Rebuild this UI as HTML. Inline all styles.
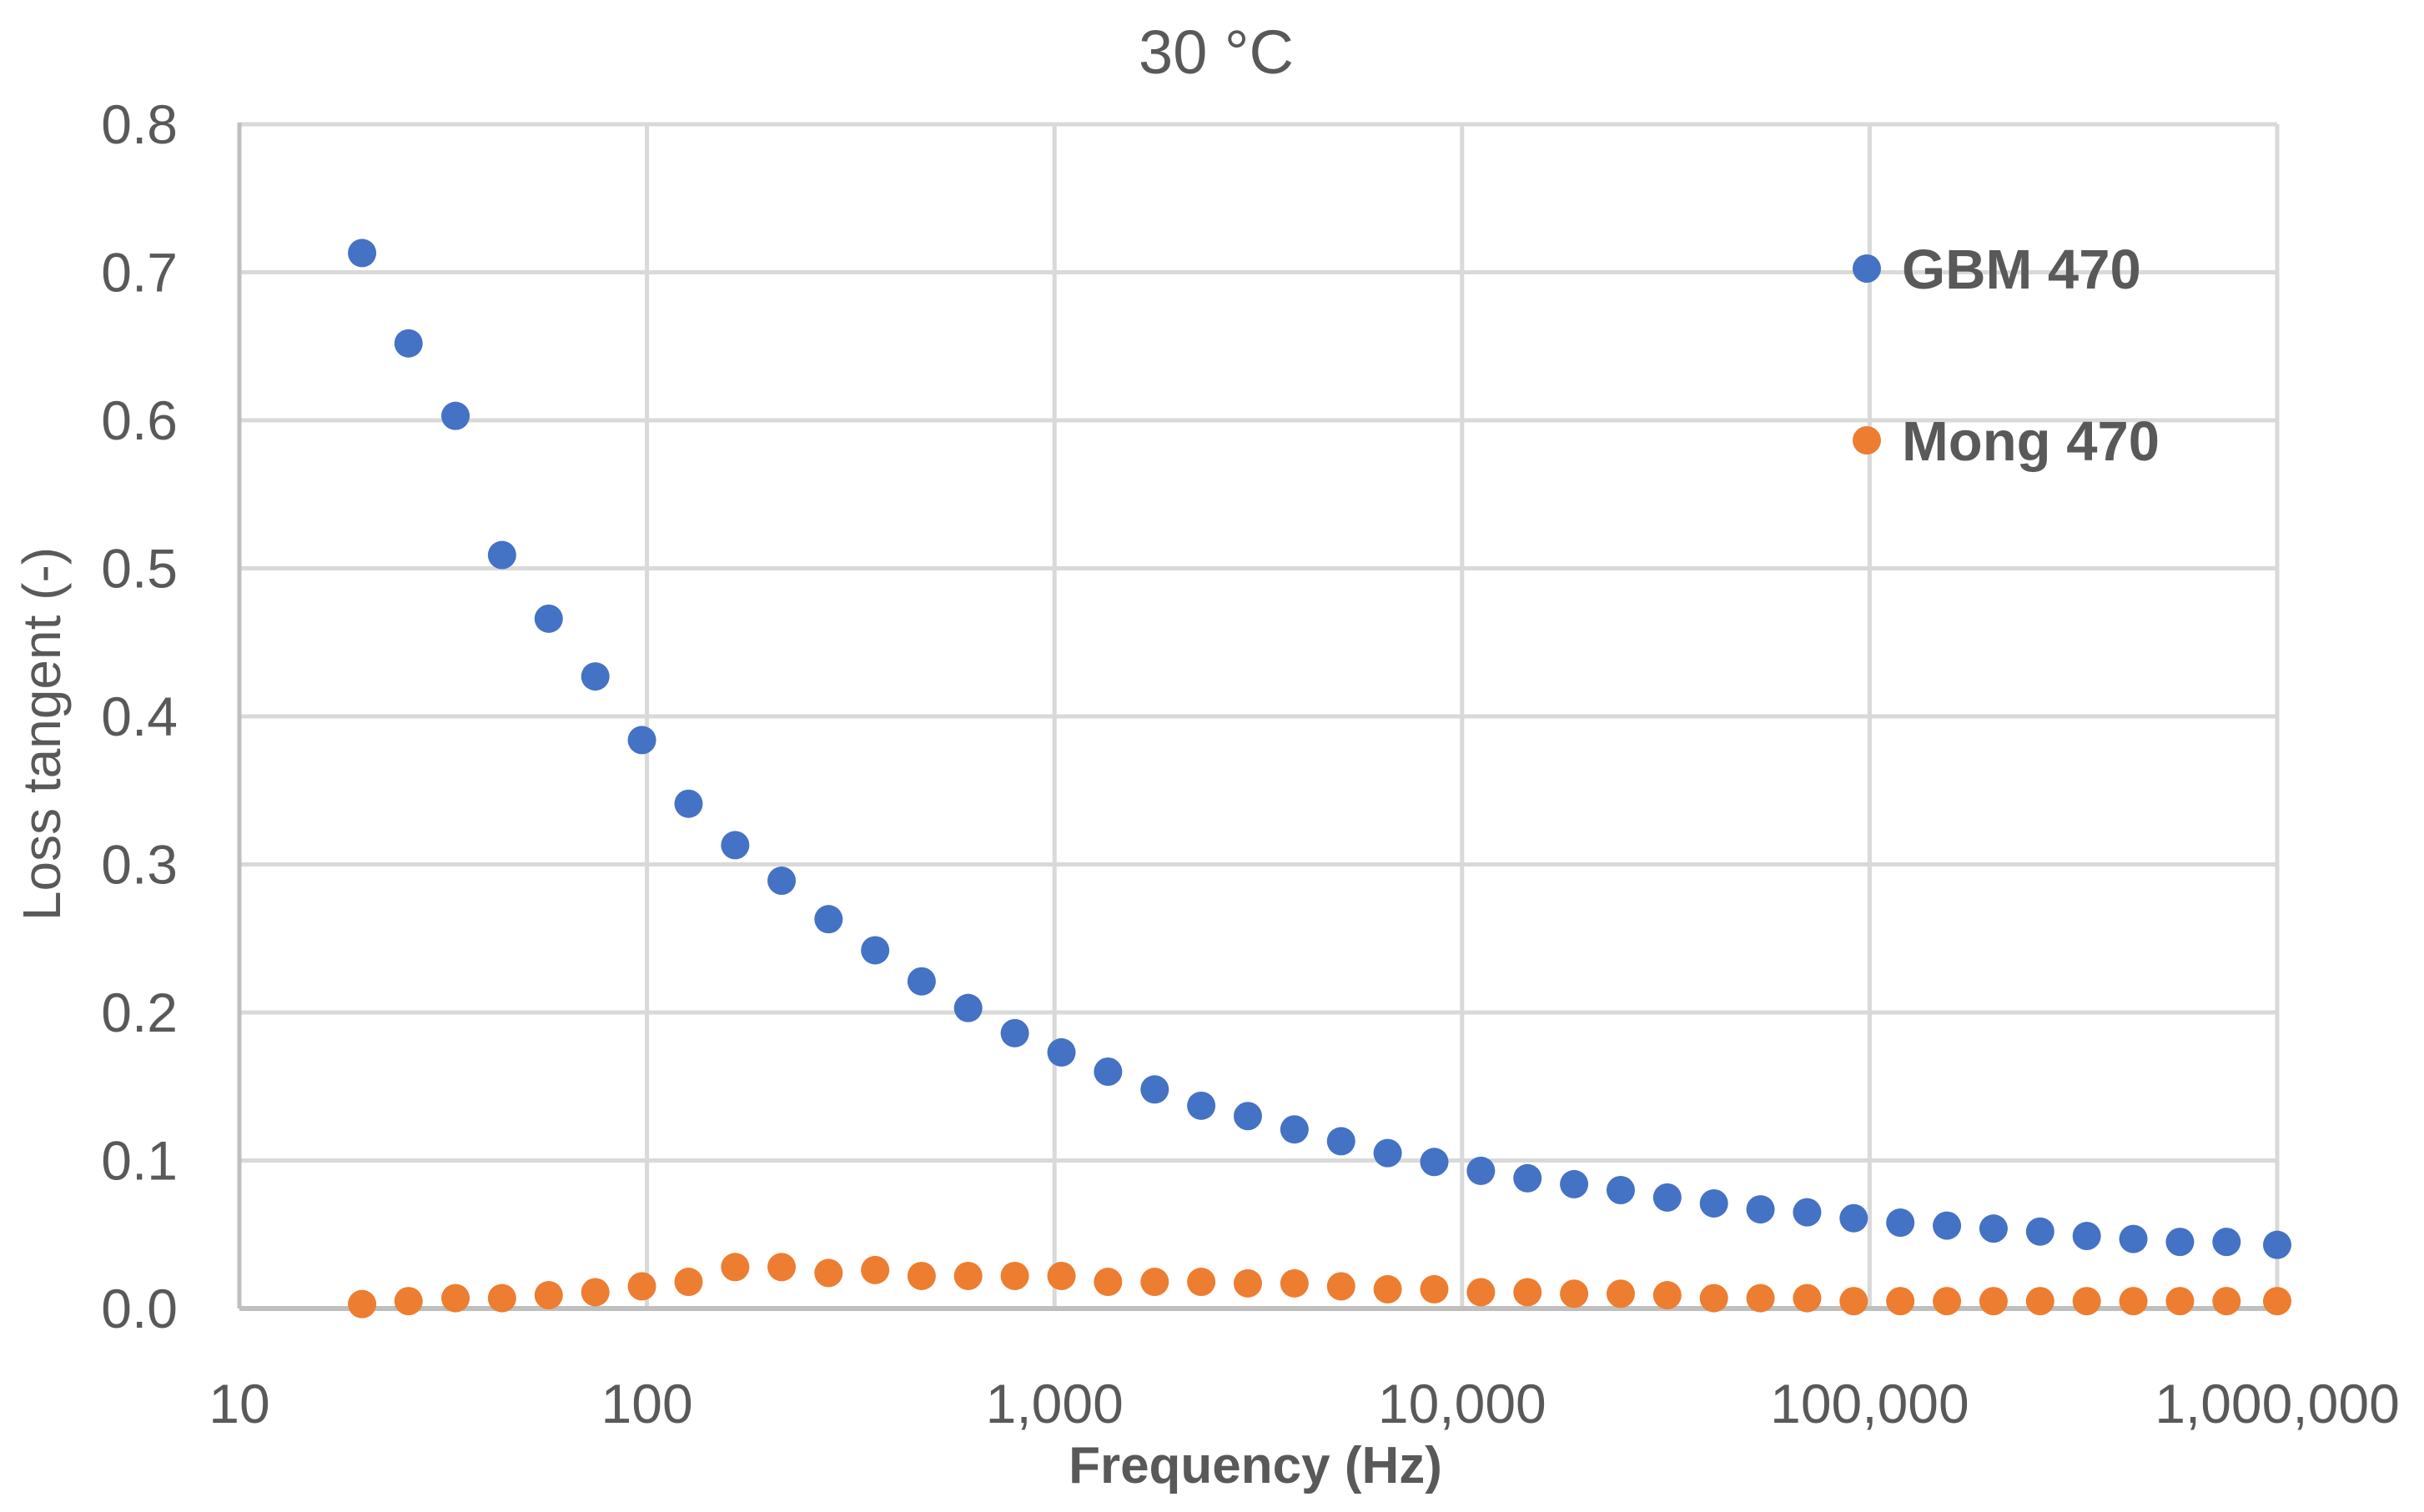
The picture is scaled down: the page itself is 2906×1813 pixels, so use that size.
<!DOCTYPE html>
<html><head><meta charset="utf-8"><style>
html,body{margin:0;padding:0;background:#fff}
svg{display:block}
text{font-family:"Liberation Sans",sans-serif;fill:#595959}
</style></head><body>
<svg id="chart" width="2906" height="1813" viewBox="0 0 2906 1813" xmlns="http://www.w3.org/2000/svg">
<rect width="2906" height="1813" fill="#fff"/>
<text x="1458" y="88" font-size="74" text-anchor="middle">30 °C</text>
<g id="grid"></g>
<g id="axes"></g>
<g id="marks"></g>
<text transform="translate(72,880) rotate(-90)" font-size="64" text-anchor="middle">Loss tangent (-)</text>
<text x="1505" y="1778" font-size="62" font-weight="bold" text-anchor="middle">Frequency (Hz)</text>
<g>
<circle cx="2238" cy="322" r="17" fill="#4472c4"/>
<text x="2280" y="346" font-size="67" font-weight="bold">GBM 470</text>
<circle cx="2238" cy="528" r="17" fill="#ed7d31"/>
<text x="2280" y="552" font-size="67" font-weight="bold">Mong 470</text>
</g>
</svg>
<script>
const freqs=[20,26,33.9,44.1,57.4,74.7,97.2,126.5,164.6,214,279,363,472,614,799,1040,1353,1761,2291,2981,3879,5048,6568,8547,11121,14471,18830,24502,31882,41486,53983,70243,91401,118933,154758,201375,262033,340964,443672,577321,751227,1000000];
const gbm=[0.713,0.652,0.603,0.509,0.466,0.427,0.384,0.341,0.313,0.289,0.263,0.242,0.221,0.203,0.186,0.173,0.16,0.148,0.137,0.13,0.121,0.113,0.105,0.099,0.093,0.088,0.084,0.08,0.075,0.071,0.067,0.065,0.061,0.058,0.056,0.054,0.052,0.049,0.047,0.045,0.045,0.043];
const mong=[0.003,0.005,0.007,0.007,0.009,0.011,0.015,0.018,0.028,0.028,0.024,0.026,0.022,0.022,0.022,0.022,0.018,0.018,0.018,0.017,0.017,0.015,0.013,0.013,0.011,0.011,0.01,0.01,0.009,0.007,0.007,0.007,0.005,0.005,0.005,0.005,0.005,0.005,0.005,0.005,0.005,0.005];
const xTickValues=[10,100,1000,10000,100000,1000000];
const xTickLabels=["10","100","1,000","10,000","100,000","1,000,000"];
const yTickValues=[0,0.1,0.2,0.3,0.4,0.5,0.6,0.7,0.8];
const yTickLabels=["0.0","0.1","0.2","0.3","0.4","0.5","0.6","0.7","0.8"];

const X0=287,X1=2730,Y0=1569,Y1=149;
function xs(v){return X0+(Math.log10(v)-1)/5*(X1-X0);}
function ys(v){return Y0-v/0.8*(Y0-Y1);}
const NS="http://www.w3.org/2000/svg";
function mk(tag,parent,attrs){const e=document.createElementNS(NS,tag);for(const k in attrs)e.setAttribute(k,attrs[k]);parent.appendChild(e);return e;}
const grid=document.getElementById('grid'),axes=document.getElementById('axes'),marks=document.getElementById('marks');
yTickValues.forEach((v,i)=>{
  if(v>0){const l=mk('line',grid,{x1:X0,x2:X1,y1:ys(v),y2:ys(v),stroke:'#d9d9d9','stroke-width':5});
  
  }
  const t=mk('text',axes,{x:213,y:ys(v)+23,'font-size':66,'text-anchor':'end'});
  t.textContent=yTickLabels[i];
  
  
});
xTickValues.forEach((v,i)=>{
  if(i>0){const l=mk('line',grid,{x1:xs(v),x2:xs(v),y1:Y1,y2:Y0,stroke:'#d9d9d9','stroke-width':5});
  
  }
  const t=mk('text',axes,{x:xs(v),y:1706,'font-size':66,'text-anchor':'middle'});
  t.textContent=xTickLabels[i];
  
  
});
const ya=mk('line',axes,{x1:X0,x2:X0,y1:Y1-2,y2:Y0,stroke:'#bfbfbf','stroke-width':5});


const xa=mk('line',axes,{x1:X0,x2:X1,y1:Y0,y2:Y0,stroke:'#bfbfbf','stroke-width':6});


freqs.forEach((f,i)=>{
  const c=mk('circle',marks,{cx:xs(f),cy:ys(gbm[i]),r:17,fill:'#4472c4'});
  
  
});
freqs.forEach((f,i)=>{
  const c=mk('circle',marks,{cx:xs(f),cy:ys(mong[i]),r:17,fill:'#ed7d31'});
  
  
});
</script>
</body></html>
